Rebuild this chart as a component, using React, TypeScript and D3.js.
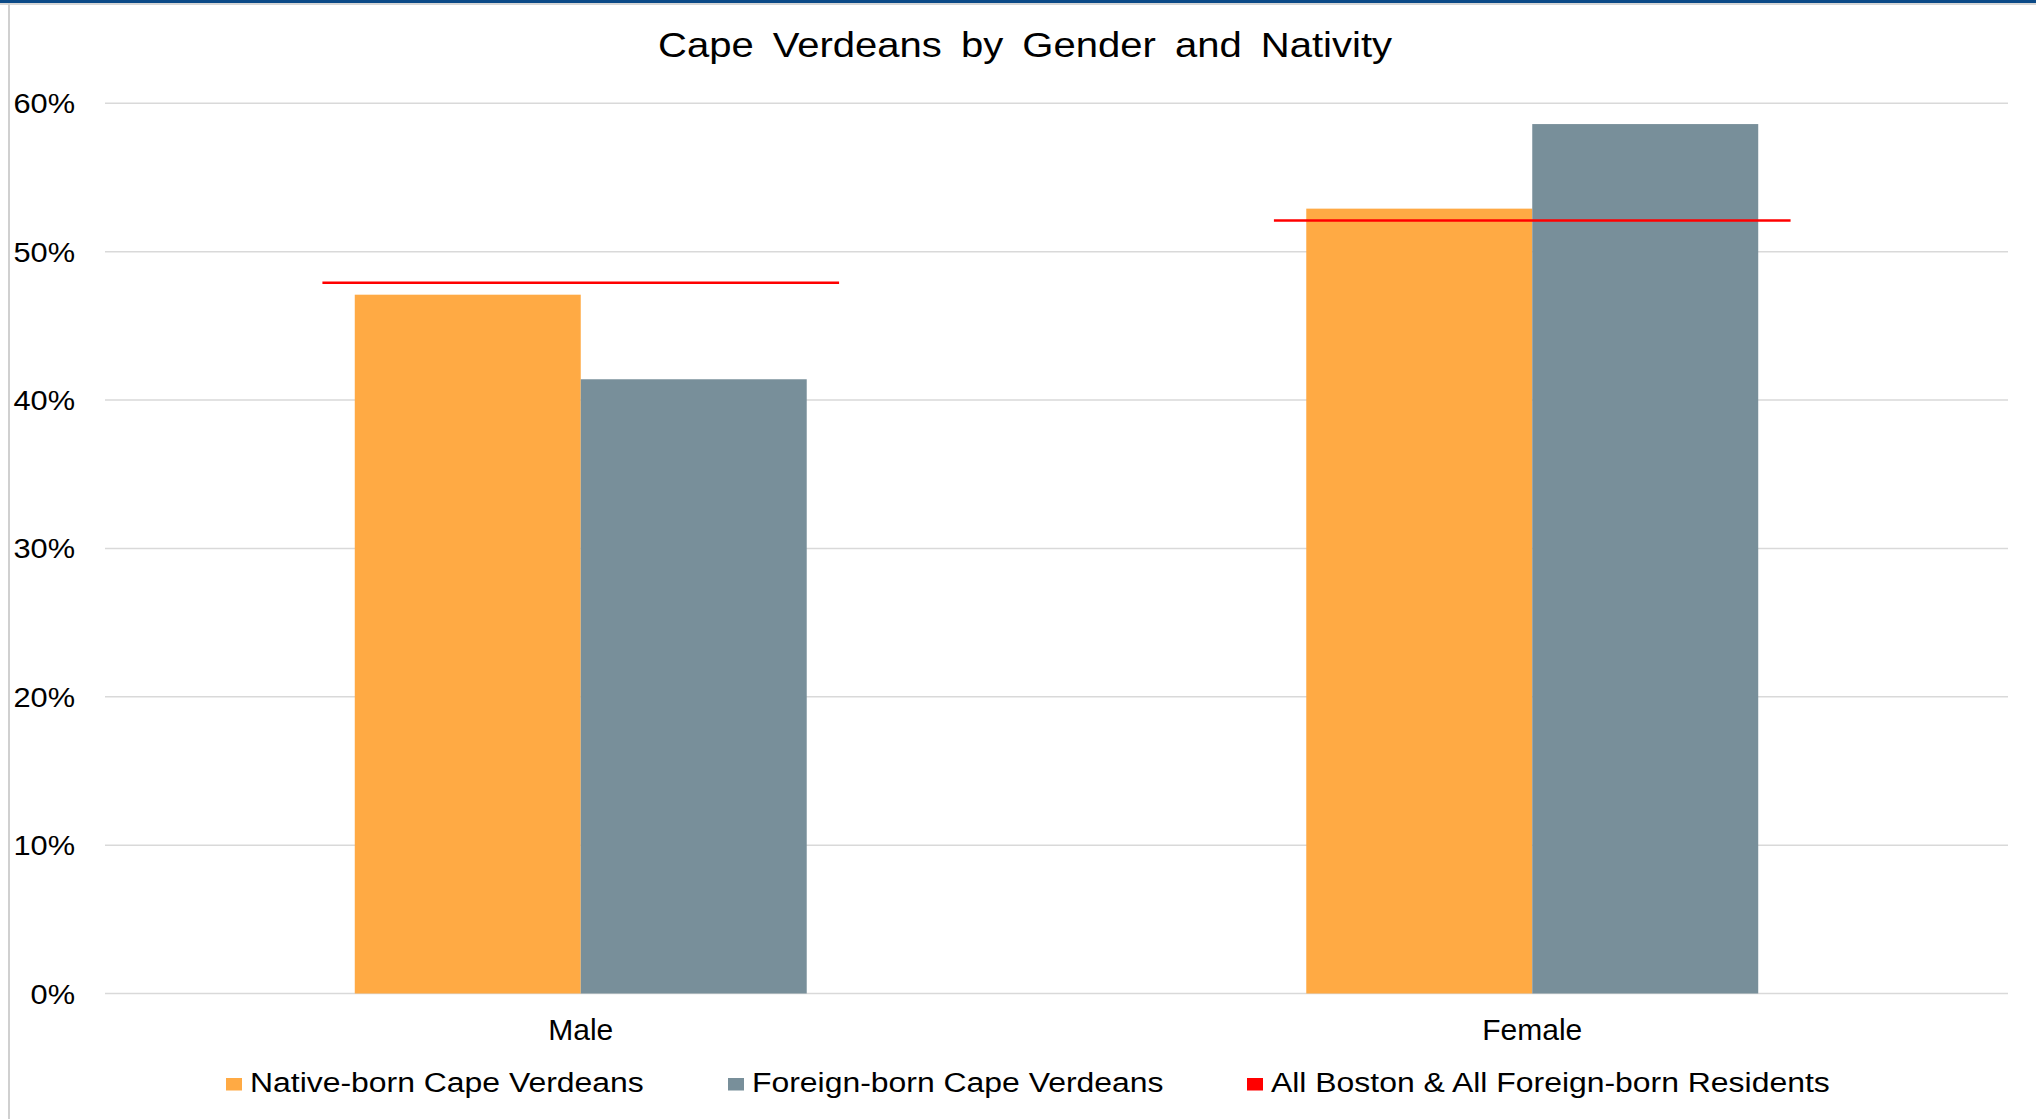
import React, { useEffect, useRef } from "react";
import * as d3 from "d3";

const categories = ["Male", "Female"];
const nativeBorn = [47.1, 52.9];
const foreignBorn = [41.4, 58.6];
const allBoston = [47.9, 52.1];
const yTicks = [0, 10, 20, 30, 40, 50, 60];
const seriesNames = [
  "Native-born Cape Verdeans",
  "Foreign-born Cape Verdeans",
  "All Boston & All Foreign-born Residents",
];
const title = "Cape Verdeans by Gender and Nativity";

const W = 2036;
const H = 1119;
const COLORS = ["#FFAA44", "#788F9A", "#FF0000"];
const FONT = "'Liberation Sans', Arial, sans-serif";
const STRETCH = 1.14;

export default function App() {
  const ref = useRef<SVGSVGElement | null>(null);

  useEffect(() => {
    const svg = d3.select(ref.current);
    svg.selectAll("*").remove();

    const left = 105, right = 2008, top = 103.3, bottom = 993.5;

    svg.append("rect").attr("x", 0).attr("y", 0).attr("width", W).attr("height", H).attr("fill", "#fff");
    // frame decorations
    svg.append("rect").attr("x", 0).attr("y", 0).attr("width", W).attr("height", 3).attr("fill", "#0B4A87");
    svg.append("rect").attr("x", 0).attr("y", 3).attr("width", W).attr("height", 2).attr("fill", "#d6d6d6");
    svg.append("rect").attr("x", 8).attr("y", 3).attr("width", 2).attr("height", H).attr("fill", "#d0d0d0");

    const y = d3.scaleLinear().domain([0, 60]).range([bottom, top]);
    const x0 = d3.scaleBand().domain(categories).range([left, right]).paddingInner(0).paddingOuter(0);
    const groupW = x0.bandwidth() * 0.475;

    // gridlines
    svg.append("g").selectAll("line").data(yTicks).join("line")
      .attr("x1", left).attr("x2", right)
      .attr("y1", (d) => y(d)).attr("y2", (d) => y(d))
      .attr("stroke", "#d9d9d9").attr("stroke-width", 1.5);

    // y labels (slightly stretched horizontally like the source)
    svg.append("g").selectAll("text").data(yTicks).join("text")
      .attr("transform", (d) => `translate(75,${y(d) + 10}) scale(${STRETCH},1)`)
      .attr("text-anchor", "end")
      .attr("font-family", FONT).attr("font-size", 27).attr("fill", "#000")
      .text((d) => `${d}%`);

    const x1 = d3.scaleBand().domain(["n", "f"]).range([0, groupW]);
    const bars = svg.append("g");
    categories.forEach((c, i) => {
      const gx = (x0(c) as number) + x0.bandwidth() / 2 - groupW / 2;
      [nativeBorn[i], foreignBorn[i]].forEach((v, j) => {
        bars.append("rect")
          .attr("x", gx + (x1(j === 0 ? "n" : "f") as number))
          .attr("y", y(v))
          .attr("width", x1.bandwidth())
          .attr("height", y(0) - y(v))
          .attr("fill", COLORS[j]);
      });
    });

    // reference lines
    const lineW = x0.bandwidth() * 0.543;
    svg.append("g").selectAll("line").data(categories).join("line")
      .attr("x1", (c) => (x0(c) as number) + x0.bandwidth() / 2 - lineW / 2)
      .attr("x2", (c) => (x0(c) as number) + x0.bandwidth() / 2 + lineW / 2)
      .attr("y1", (_c, i) => y(allBoston[i]))
      .attr("y2", (_c, i) => y(allBoston[i]))
      .attr("stroke", COLORS[2]).attr("stroke-width", 2.5);

    // x labels
    svg.append("g").selectAll("text").data(categories).join("text")
      .attr("x", (c) => (x0(c) as number) + x0.bandwidth() / 2)
      .attr("y", 1040).attr("text-anchor", "middle")
      .attr("font-family", FONT).attr("font-size", 30).attr("fill", "#000")
      .text((c) => c);

    // title
    svg.append("text").attr("x", 658).attr("y", 57)
      .attr("font-family", FONT).attr("font-size", 35)
      .attr("word-spacing", 7)
      .attr("textLength", 734).attr("lengthAdjust", "spacingAndGlyphs")
      .attr("fill", "#000").text(title);

    // legend
    const legX = [226, 728, 1247];
    seriesNames.forEach((s, i) => {
      svg.append("rect").attr("x", legX[i]).attr("y", 1078).attr("width", 16).attr("height", 12.5).attr("fill", COLORS[i]);
      svg.append("text")
        .attr("transform", `translate(${legX[i] + 24},1092.3) scale(${STRETCH},1)`)
        .attr("font-family", FONT).attr("font-size", 28).attr("fill", "#000").text(s);
    });
  }, []);

  return (
    <svg ref={ref} width={W} height={H}
      style={{ position: "absolute", left: 0, top: 0, display: "block" }} />
  );
}
